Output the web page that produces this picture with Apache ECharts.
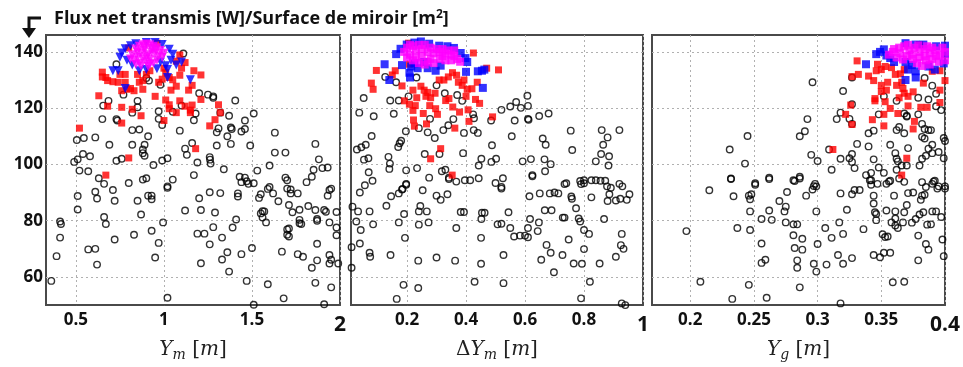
<!DOCTYPE html>
<html><head><meta charset="utf-8">
<script src="https://cdn.jsdelivr.net/npm/echarts@6/dist/echarts.min.js"></script>
<style>html,body{margin:0;padding:0;background:#fff}#c{width:963px;height:367px}</style>
</head><body><div id="c"></div>
<script>
// ---- tick labels ----
const yTicks = [60, 80, 100, 120, 140];
const x1Ticks = [0.5, 1, 1.5, 2];
const x2Ticks = [0.2, 0.4, 0.6, 0.8, 1];
const x3Ticks = [0.2, 0.25, 0.3, 0.35, 0.4];
const titleText = 'Flux net transmis [W]/Surface de miroir [m';

// ---- panel 1 : Y_m ----
const p1Circles = [[1.11,139.4],[0.73,135.6],[0.90,130.7],[0.915,129.8],[0.98,128.3],[0.77,124.8],[0.685,122.6],[0.655,120.9],[0.85,122.6],[0.85,120.3],[1.20,125.3],[1.25,124.8],[1.28,124.2],[1.28,123.7],[1.405,122.7],[1.10,120.9],[1.05,118.7],[1.18,118.1],[1.17,115.7],[0.97,118.9],[0.97,116.2],[0.99,114.0],[0.82,118.4],[0.73,116.1],[0.735,115.6],[0.65,116.1],[0.82,112.2],[0.86,112.4],[0.91,110.0],[1.09,112.0],[1.31,112.8],[1.30,111.4],[1.32,118.4],[1.37,117.3],[1.38,113.1],[1.385,112.6],[1.36,110.0],[1.38,107.3],[1.46,115.6],[1.46,112.6],[1.44,111.7],[1.51,118.1],[1.63,111.3],[1.63,104.2],[1.30,106.7],[1.49,106.7],[1.86,107.3],[0.505,108.7],[0.545,109.4],[0.61,109.6],[0.69,107.0],[0.82,107.0],[0.89,107.0],[0.88,105.3],[0.88,104.0],[0.89,103.1],[1.12,105.6],[1.13,103.4],[1.16,107.6],[1.02,102.2],[0.99,101.4],[1.26,102.6],[1.262,101.7],[1.265,100.3],[1.19,100.7],[0.94,99.8],[1.34,98.3],[1.60,99.6],[1.69,104.2],[1.88,101.8],[1.90,98.7],[1.93,98.9],[1.85,98.1],[0.49,100.9],[0.51,101.8],[0.54,103.7],[0.58,102.9],[0.52,97.8],[0.57,97.6],[0.73,101.3],[0.76,102.0],[0.63,95.1],[0.66,93.1],[0.80,93.4],[0.88,94.6],[0.90,95.1],[1.05,94.6],[1.17,96.2],[1.02,92.2],[1.43,95.6],[1.46,95.3],[1.47,94.0],[1.44,93.7],[1.48,93.1],[1.51,93.3],[1.53,97.8],[1.69,95.3],[1.70,94.4],[1.81,93.7],[1.84,95.6],[1.70,91.4],[1.95,91.4],[1.60,92.0],[0.71,90.9],[1.02,91.7],[0.51,88.8],[0.61,90.3],[0.62,87.9],[0.72,87.1],[0.85,87.1],[0.91,88.9],[0.93,88.9],[0.93,87.6],[0.51,84.0],[0.87,82.2],[0.66,81.3],[0.67,78.8],[0.41,79.7],[0.415,78.8],[0.41,74.0],[0.39,67.4],[0.36,58.6],[0.57,69.8],[0.61,70.0],[0.62,64.4],[0.72,73.3],[0.83,75.0],[0.93,76.4],[0.97,72.1],[0.95,66.9],[0.995,79.4],[1.02,52.6],[1.12,83.6],[1.20,88.0],[1.26,90.1],[1.32,89.8],[1.21,83.8],[1.29,82.9],[1.19,75.4],[1.23,75.4],[1.28,77.7],[1.26,71.6],[1.21,64.9],[1.33,74.0],[1.33,66.2],[1.36,68.8],[1.37,61.9],[1.39,77.6],[1.41,80.4],[1.42,89.7],[1.42,88.6],[1.44,68.1],[1.47,58.6],[1.50,70.3],[1.51,50.1],[1.54,88.1],[1.55,89.4],[1.56,83.4],[1.55,82.6],[1.56,81.1],[1.58,79.4],[1.57,83.3],[1.59,91.3],[1.59,57.4],[1.62,89.7],[1.65,86.9],[1.67,69.0],[1.68,52.4],[1.70,76.9],[1.71,74.4],[1.70,75.0],[1.71,77.2],[1.72,91.1],[1.72,89.7],[1.71,85.6],[1.73,83.0],[1.76,89.7],[1.77,83.9],[1.77,80.3],[1.77,79.1],[1.78,78.8],[1.76,68.1],[1.79,67.2],[1.82,85.2],[1.84,63.3],[1.86,83.8],[1.87,80.6],[1.87,80.0],[1.87,71.8],[1.87,65.9],[1.86,57.9],[1.91,83.8],[1.92,83.2],[1.93,88.9],[1.94,79.4],[1.94,67.8],[1.95,66.1],[1.94,64.8],[1.95,56.3],[1.91,50.3],[1.98,83.1],[1.98,77.6],[1.98,74.8],[1.99,64.8],[1.94,90.9]];
const p1Red = [[0.52,112.9],[0.67,96.2],[0.80,102.3],[1.18,105.6],[0.63,124.4],[0.68,120.7],[0.76,120.3],[0.76,114.7],[0.87,117.3],[0.82,119.6],[1.00,115.6],[0.95,124.2],[0.81,127.0],[0.83,126.2],[0.88,126.7],[0.76,126.2],[0.79,126.7],[1.01,122.9],[1.03,121.2],[1.03,119.8],[1.07,118.4],[1.09,122.6],[1.12,120.7],[1.15,119.3],[1.15,118.4],[1.16,121.1],[1.14,126.4],[1.16,128.1],[1.21,131.8],[1.17,133.3],[1.09,131.7],[1.05,130.1],[1.03,130.9],[1.04,126.4],[1.07,127.8],[1.10,134.2],[1.12,136.2],[1.09,138.9],[1.21,123.1],[1.26,113.7],[1.29,115.9],[1.32,118.4],[1.31,121.2],[0.65,132.8],[0.67,130.9],[0.65,131.1],[0.68,129.8],[0.71,129.4],[0.75,132.0],[0.78,132.0],[0.85,132.0],[0.86,129.2],[0.90,132.0],[0.88,129.8],[0.92,133.3],[0.97,129.2],[0.99,130.3],[1.00,134.2],[1.01,132.6],[0.80,141.4],[0.96,143.1],[1.07,136.7],[0.78,129.2],[0.74,129.2]];
const p1Blue = [[0.71,133.3],[0.74,133.3],[0.78,127.0],[1.15,130.1],[1.02,130.9],[1.10,136.4],[1.05,139.2],[0.76,139.6],[0.78,141.1],[0.81,142.2],[0.84,142.9],[0.90,143.3],[0.95,143.3],[0.99,142.6],[1.03,140.9],[1.04,137.0],[1.01,135.1],[0.96,134.0],[0.90,133.7],[0.86,133.3],[0.82,135.3],[0.79,137.0],[0.75,138.1],[1.07,135.3],[0.98,136.4],[1.02,133.7]];
const p1Magenta = [[0.82,139],[0.84,141],[0.86,142],[0.88,142.5],[0.90,142.8],[0.92,142.5],[0.94,142],[0.96,141.5],[0.98,140.5],[0.83,137],[0.85,138],[0.87,139.5],[0.89,140.5],[0.91,139],[0.93,140],[0.95,139.5],[0.97,138.5],[0.99,138],[0.86,136],[0.88,137.5],[0.90,136.5],[0.92,137.5],[0.94,136],[0.96,137],[0.87,135],[0.91,134.8],[0.84,135.5],[0.89,141.5],[0.93,141.2],[0.85,140],[0.95,141],[0.81,137.5],[1.0,139.5],[0.9,138.2],[0.92,135.5]];

// ---- panel 2 : dY_m ----
const p2Circles = [[0.126,131.1],[0.163,129.2],[0.053,123.6],[0.038,118.4],[0.087,117.1],[0.143,122.7],[0.155,118.0],[0.172,122.7],[0.205,124.2],[0.232,130.9],[0.30,128.1],[0.328,125.3],[0.37,124.7],[0.387,122.6],[0.424,117.8],[0.427,116.4],[0.485,115.6],[0.278,116.2],[0.24,112.9],[0.196,111.8],[0.27,111.4],[0.294,109.4],[0.323,112.2],[0.34,113.9],[0.357,116.1],[0.393,111.2],[0.426,112.2],[0.44,111.2],[0.08,110.1],[0.03,105.3],[0.045,106.1],[0.06,107],[0.18,108.4],[0.175,107.5],[0.17,106.2],[0.054,101.7],[0.069,102.2],[0.137,102.7],[0.142,100.3],[0.14,98.4],[0.07,97.2],[0.057,92.6],[0.083,94.2],[0.197,97.9],[0.197,93.1],[0.234,98.7],[0.26,103.7],[0.275,95.3],[0.31,103.7],[0.318,97.6],[0.33,98.1],[0.342,95.3],[0.39,104],[0.443,99.6],[0.452,102],[0.396,94.4],[0.414,94.4],[0.443,95.1],[0.488,106.8],[0.486,100.9],[0.502,102],[0.50,93.4],[0.52,92],[0.525,95.1],[0.52,119.4],[0.55,120.6],[0.57,122.2],[0.586,120.1],[0.608,124.4],[0.61,120.8],[0.565,115.6],[0.61,116.2],[0.612,115.9],[0.648,117.2],[0.68,118.1],[0.555,110],[0.592,101.1],[0.62,101.9],[0.66,109.2],[0.67,107],[0.666,101.8],[0.687,100.1],[0.625,96.2],[0.668,97.6],[0.755,112],[0.76,105.1],[0.84,101.1],[0.86,112.2],[0.88,109.6],[0.92,112.2],[0.865,107],[0.858,103.7],[0.885,102.9],[0.883,99.6],[0.80,94.4],[0.80,93.3],[0.74,93.3],[0.856,94.2],[0.872,94.2],[0.92,93.1],[0.93,92.2],[0.04,90.0],[0.015,85.0],[0.034,83.3],[0.028,79.7],[0.043,76.7],[0.04,71.9],[0.012,70.6],[0.012,63.3],[0.073,83.3],[0.085,78.7],[0.073,68.6],[0.075,67.2],[0.144,67.8],[0.13,85.3],[0.146,88.7],[0.172,89.7],[0.183,91.1],[0.197,92.8],[0.185,91.3],[0.19,82.4],[0.172,79.4],[0.193,73.9],[0.24,78.6],[0.24,83.3],[0.245,85.2],[0.267,83.3],[0.273,79.4],[0.253,90.8],[0.238,65.8],[0.238,56.1],[0.188,57.2],[0.165,52.2],[0.30,88.9],[0.314,87.4],[0.337,89.4],[0.342,94.8],[0.367,93.9],[0.30,66.9],[0.363,65.8],[0.367,77.4],[0.382,83.1],[0.393,83.1],[0.429,58.3],[0.451,73.9],[0.451,64.7],[0.452,80.6],[0.454,82.8],[0.463,82.8],[0.52,91.4],[0.507,78.7],[0.52,78.9],[0.527,67.8],[0.527,57.8],[0.544,83.0],[0.55,77.4],[0.563,74.4],[0.583,74.7],[0.60,74.7],[0.61,74.1],[0.61,77.4],[0.617,80.6],[0.615,88.7],[0.625,95.8],[0.643,76.3],[0.647,79.4],[0.655,66.1],[0.65,89.7],[0.667,83.7],[0.673,71.4],[0.684,89.7],[0.687,68.6],[0.698,61.7],[0.69,83.7],[0.70,90.0],[0.713,89.7],[0.727,67.8],[0.728,81.1],[0.734,81.1],[0.734,93.0],[0.748,73.3],[0.757,88.6],[0.759,87.8],[0.765,64.8],[0.773,84.4],[0.782,80.8],[0.787,94.1],[0.79,93.0],[0.787,79.7],[0.793,64.7],[0.80,69.9],[0.80,76.7],[0.817,75.3],[0.825,88.3],[0.825,94.4],[0.84,94.4],[0.79,52.4],[0.82,58.3],[0.853,64.8],[0.868,80.6],[0.88,87.0],[0.886,89.4],[0.891,91.7],[0.878,92.2],[0.908,87.2],[0.923,87.8],[0.928,75.3],[0.925,71.3],[0.934,70.0],[0.908,67.2],[0.945,87.4],[0.954,89.4],[0.928,50.6],[0.94,50.0]];
const p2Red = [[0.096,133.4],[0.15,131.8],[0.16,133.3],[0.079,128.9],[0.085,126.7],[0.183,127.9],[0.208,135.6],[0.205,143.1],[0.22,126.4],[0.233,123.7],[0.228,120.9],[0.247,127.8],[0.258,126.4],[0.27,125.6],[0.264,124.2],[0.28,123.7],[0.295,125.3],[0.309,130],[0.325,130],[0.34,131.1],[0.354,132.6],[0.368,131.7],[0.374,129.2],[0.393,130],[0.404,126.7],[0.191,122.6],[0.208,121.4],[0.22,119.2],[0.222,115.8],[0.225,113.6],[0.255,118.1],[0.266,114.4],[0.277,120.9],[0.297,119.8],[0.303,117.8],[0.331,122.7],[0.342,123.4],[0.355,120.4],[0.378,118.6],[0.407,119.4],[0.41,115.3],[0.432,123.1],[0.446,121.7],[0.438,129.2],[0.40,124.2],[0.362,112.9],[0.314,105.6],[0.28,102],[0.353,96.2],[0.49,116.9],[0.51,133.6],[0.47,134.2],[0.425,139.6],[0.42,126.9],[0.387,128.1]];
const p2Blue = [[0.124,135.6],[0.14,130],[0.21,130.9],[0.44,133.1],[0.454,133.3],[0.462,133.7],[0.457,127.2],[0.40,132.9],[0.163,139.2],[0.178,141.1],[0.199,142.6],[0.225,143.3],[0.247,143.7],[0.275,142.9],[0.309,142.2],[0.337,142],[0.359,141.4],[0.382,139.6],[0.398,137.8],[0.404,136.4],[0.225,135.9],[0.236,134.2],[0.214,134.8],[0.297,133.3],[0.27,134.2],[0.314,135.1],[0.258,136.4],[0.183,135.3],[0.208,132.6]];
const p2Magenta = [[0.19,140],[0.20,141.5],[0.21,139],[0.22,142],[0.23,140.5],[0.24,142.5],[0.25,141],[0.26,142.5],[0.27,140],[0.28,141.5],[0.29,139.5],[0.30,141],[0.31,140],[0.32,141],[0.33,139.5],[0.34,140.5],[0.35,139],[0.36,138.5],[0.37,137.5],[0.38,136.5],[0.20,138],[0.22,137],[0.24,136],[0.26,135.5],[0.28,137.5],[0.25,138.5],[0.23,138],[0.27,136.5],[0.29,136],[0.31,137.5],[0.33,137],[0.35,137],[0.32,138.5],[0.21,142.5],[0.36,140.5]];

// ---- panel 3 : Y_g ----
const p3Circles = [[0.296,129.2],[0.32,126.1],[0.318,118.4],[0.315,116.1],[0.325,116.2],[0.327,114.4],[0.292,116.1],[0.29,111.8],[0.286,110],[0.245,110.1],[0.231,105.3],[0.243,100.3],[0.232,95],[0.251,93.3],[0.262,95.3],[0.281,94.4],[0.286,95.6],[0.295,103.4],[0.30,101.2],[0.297,92.3],[0.298,93.1],[0.311,98.1],[0.318,102],[0.325,102.2],[0.327,103.7],[0.327,100.9],[0.329,98.7],[0.309,105.3],[0.331,107.3],[0.34,111.1],[0.344,112],[0.34,106.4],[0.344,101.8],[0.348,98.9],[0.342,97],[0.338,96.2],[0.342,94.4],[0.347,93.1],[0.352,97],[0.357,107],[0.354,93.1],[0.357,94.2],[0.361,104],[0.362,102],[0.363,101.1],[0.366,99.6],[0.37,99.6],[0.362,98.1],[0.368,93.8],[0.371,105.8],[0.348,117.8],[0.362,112.2],[0.364,113.3],[0.368,111.1],[0.37,117],[0.379,117.8],[0.382,114.4],[0.384,112.6],[0.387,112.2],[0.389,112.2],[0.382,109.8],[0.384,109.2],[0.387,105.6],[0.39,107],[0.39,104],[0.385,103.1],[0.382,102],[0.38,99.6],[0.382,93.7],[0.385,92],[0.39,93.1],[0.392,94.2],[0.395,92.2],[0.40,108.3],[0.399,109.4],[0.401,106.8],[0.393,120.7],[0.387,123.1],[0.39,128],[0.393,125.1],[0.397,119.3],[0.40,92.2],[0.399,102.2],[0.395,104.4],[0.352,124.2],[0.362,122.6],[0.368,118.1],[0.37,117.3],[0.379,123.7],[0.384,130.7],[0.327,130.9],[0.327,121.4],[0.197,76.3],[0.208,58.3],[0.215,90.8],[0.232,94.8],[0.234,88.7],[0.237,77.4],[0.246,88.9],[0.247,87.6],[0.248,89.4],[0.247,83.3],[0.247,76.7],[0.246,57.2],[0.233,52.2],[0.251,92.8],[0.256,80.6],[0.256,71.9],[0.256,65],[0.259,66.1],[0.26,52.6],[0.262,83.6],[0.264,80.3],[0.262,94.8],[0.27,87],[0.274,83.3],[0.275,85],[0.276,90.2],[0.275,79.4],[0.281,78.7],[0.284,78.7],[0.281,74.8],[0.282,70.3],[0.284,65.9],[0.284,63.3],[0.286,56.3],[0.288,73.6],[0.288,69.7],[0.282,94.1],[0.286,95],[0.291,88.9],[0.296,91.1],[0.299,92.2],[0.299,83.3],[0.30,71.7],[0.299,61.9],[0.297,64.7],[0.306,77.4],[0.307,64.4],[0.311,73.9],[0.316,67.8],[0.317,79.4],[0.318,89.7],[0.32,64.7],[0.32,75.3],[0.318,50.6],[0.323,83.9],[0.327,89.4],[0.327,66.7],[0.329,90.9],[0.333,90.9],[0.327,49.8],[0.336,77],[0.344,88.9],[0.344,86.1],[0.345,83],[0.346,82.4],[0.346,80.2],[0.344,67.8],[0.349,67],[0.351,75.2],[0.352,68.6],[0.353,74.2],[0.355,74.4],[0.354,83.6],[0.356,93.9],[0.357,68.6],[0.358,79.4],[0.359,58.1],[0.36,88.9],[0.361,83.3],[0.361,78.3],[0.361,80.8],[0.363,77.4],[0.368,83],[0.367,79.4],[0.368,58.3],[0.37,85.6],[0.371,89.8],[0.374,79.3],[0.375,90],[0.377,80.6],[0.379,65.9],[0.379,74.7],[0.38,82.2],[0.381,87.4],[0.382,88.9],[0.383,83],[0.384,89.2],[0.385,71.7],[0.386,78.6],[0.387,69.7],[0.389,78.7],[0.39,83.3],[0.391,93.9],[0.393,83.3],[0.394,91.4],[0.397,81.3],[0.398,73.3],[0.399,67.4],[0.40,91.4],[0.401,94.4],[0.341,94.4],[0.342,92.8],[0.364,95]];
const p3Red = [[0.331,136.8],[0.327,131.2],[0.332,132],[0.34,131.4],[0.344,129.8],[0.346,133.3],[0.347,135.6],[0.35,133.7],[0.353,134.8],[0.355,129.2],[0.35,128.1],[0.35,125.9],[0.354,126.4],[0.345,122.6],[0.353,122.3],[0.357,119.9],[0.352,117.8],[0.345,123.4],[0.326,121.1],[0.322,117.8],[0.327,114.2],[0.343,115.9],[0.352,113.7],[0.312,105.3],[0.37,102.2],[0.366,96.2],[0.362,128.1],[0.366,129.2],[0.367,127],[0.368,125.3],[0.371,124.2],[0.364,123.7],[0.363,118.1],[0.371,120.8],[0.375,125.8],[0.376,115.3],[0.375,112.6],[0.381,120.3],[0.386,120.3],[0.383,128.9],[0.396,126.4],[0.396,122],[0.40,129.8],[0.396,133.3],[0.365,132.2],[0.368,133.7],[0.358,134.4],[0.361,132],[0.38,142.6],[0.39,133.1],[0.402,133.1]];
const p3Blue = [[0.338,135.6],[0.346,139.2],[0.349,140],[0.352,140.9],[0.369,143.1],[0.377,142.6],[0.383,142.6],[0.393,142],[0.40,142.2],[0.369,130],[0.377,130.9],[0.371,133.7],[0.377,133.1],[0.392,133.7],[0.399,135.9],[0.36,136.4],[0.357,137.8],[0.369,136.4],[0.374,135.3],[0.387,134.8],[0.354,138.7],[0.40,139.2]];
const p3Magenta = [[0.356,139],[0.36,141],[0.364,141.5],[0.368,142],[0.372,140.5],[0.376,141.5],[0.38,140],[0.384,141],[0.388,139.5],[0.392,140.5],[0.396,139],[0.40,140],[0.37,138.5],[0.375,137.5],[0.38,138],[0.385,137],[0.39,137.5],[0.395,136.5],[0.40,137],[0.365,139.5],[0.378,136],[0.388,135.5],[0.382,135],[0.374,139],[0.398,141.5],[0.362,138],[0.393,138.5],[0.386,142],[0.371,142.5],[0.359,140],[0.401,135.5],[0.379,142.3],[0.367,137.3],[0.39,141.5],[0.384,138.5]];

const FONT = 'Open Sans';
const gridCommon = {top: 35, height: 287, show: true, borderColor: '#4a4a4a', borderWidth: 2, backgroundColor: '#fff'};
const mathRich = {
  i: {fontFamily: 'DejaVu Serif', fontStyle: 'italic', fontSize: 20, color: '#222'},
  s: {fontFamily: 'DejaVu Serif', fontStyle: 'italic', fontSize: 14, color: '#222', padding: [10, 0, 0, 0]},
  n: {fontFamily: 'DejaVu Serif', fontSize: 20, color: '#222'}
};
function xAxis(idx, min, max, ticks, name) {
  return {
    type: 'value', gridIndex: idx, min: min, max: max,
    name: name, nameLocation: 'middle', nameGap: 31,
    nameTextStyle: {rich: mathRich},
    axisLine: {show: false},
    axisTick: {show: false, customValues: ticks},
    splitLine: {show: true, customValues: ticks, lineStyle: {color: '#b0b0b0', type: [2, 3], width: 1}},
    axisLabel: {
      customValues: ticks, margin: 7, color: '#111', fontFamily: FONT, fontWeight: 'bold', fontSize: 17,
      formatter: v => v === max ? '{big|' + v + '}' : String(v),
      rich: {big: {fontFamily: FONT, fontWeight: 'bold', fontSize: 21, color: '#111', padding: [2, 0, 0, 0]}}
    }
  };
}
function yAxis(idx, showLabels) {
  return {
    type: 'value', gridIndex: idx, min: 50, max: 146,
    axisLine: {show: false},
    axisTick: {show: false, customValues: yTicks},
    splitLine: {show: true, customValues: yTicks, lineStyle: {color: '#b0b0b0', type: [2, 3], width: 1}},
    axisLabel: {show: showLabels, customValues: yTicks, margin: 3, color: '#111', fontFamily: FONT, fontWeight: 'bold', fontSize: 17}
  };
}
function sc(idx, data, kind) {
  const base = {type: 'scatter', xAxisIndex: idx, yAxisIndex: idx, data: data, silent: true};
  if (kind === 'circle') return Object.assign(base, {symbol: 'circle', symbolSize: 6.5, itemStyle: {color: 'rgba(0,0,0,0)', borderColor: '#000', borderWidth: 1.4}});
  if (kind === 'red') return Object.assign(base, {symbol: 'rect', symbolSize: 7, itemStyle: {color: '#ff0000'}});
  const col = kind === 'blue' ? '#0000ff' : '#ff00ff';
  if (idx === 0) return Object.assign(base, {symbol: 'triangle', symbolRotate: 180, symbolSize: 9, itemStyle: {color: col}});
  return Object.assign(base, {symbol: 'rect', symbolSize: 8, itemStyle: {color: col}});
}

const chart = echarts.init(document.getElementById('c'), null, {renderer: 'canvas'});
chart.setOption({
  animation: false,
  backgroundColor: '#fff',
  title: {
    text: titleText + '{sup|2}]',
    left: 49, top: 4,
    textStyle: {fontFamily: FONT, fontWeight: 'bold', fontSize: 18, color: '#111',
      rich: {sup: {fontFamily: FONT, fontWeight: 'bold', fontSize: 12, color: '#111', padding: [0, 0, 8, 0]}}}
  },
  graphic: [
    {type: 'polyline', shape: {points: [[41, 18], [29, 18], [29, 33]]}, style: {stroke: '#111', lineWidth: 3, fill: null}},
    {type: 'polygon', shape: {points: [[22, 28], [36, 28], [29, 38]]}, style: {fill: '#111'}}
  ],
  grid: [
    Object.assign({left: 46, width: 294}, gridCommon),
    Object.assign({left: 351, width: 292}, gridCommon),
    Object.assign({left: 652, width: 293}, gridCommon)
  ],
  xAxis: [
    xAxis(0, 0.33, 2, x1Ticks, '{i|Y}{s|m}{n| [}{i|m}{n|]}'),
    xAxis(1, 0.01, 1, x2Ticks, '{n|Δ}{i|Y}{s|m}{n| [}{i|m}{n|]}'),
    xAxis(2, 0.17, 0.4, x3Ticks, '{i|Y}{s|g}{n| [}{i|m}{n|]}')
  ],
  yAxis: [yAxis(0, true), yAxis(1, false), yAxis(2, false)],
  series: [
    sc(0, p1Circles, 'circle'), sc(0, p1Red, 'red'), sc(0, p1Blue, 'blue'), sc(0, p1Magenta, 'magenta'),
    sc(1, p2Circles, 'circle'), sc(1, p2Red, 'red'), sc(1, p2Blue, 'blue'), sc(1, p2Magenta, 'magenta'),
    sc(2, p3Circles, 'circle'), sc(2, p3Red, 'red'), sc(2, p3Blue, 'blue'), sc(2, p3Magenta, 'magenta')
  ]
});
</script></body></html>
